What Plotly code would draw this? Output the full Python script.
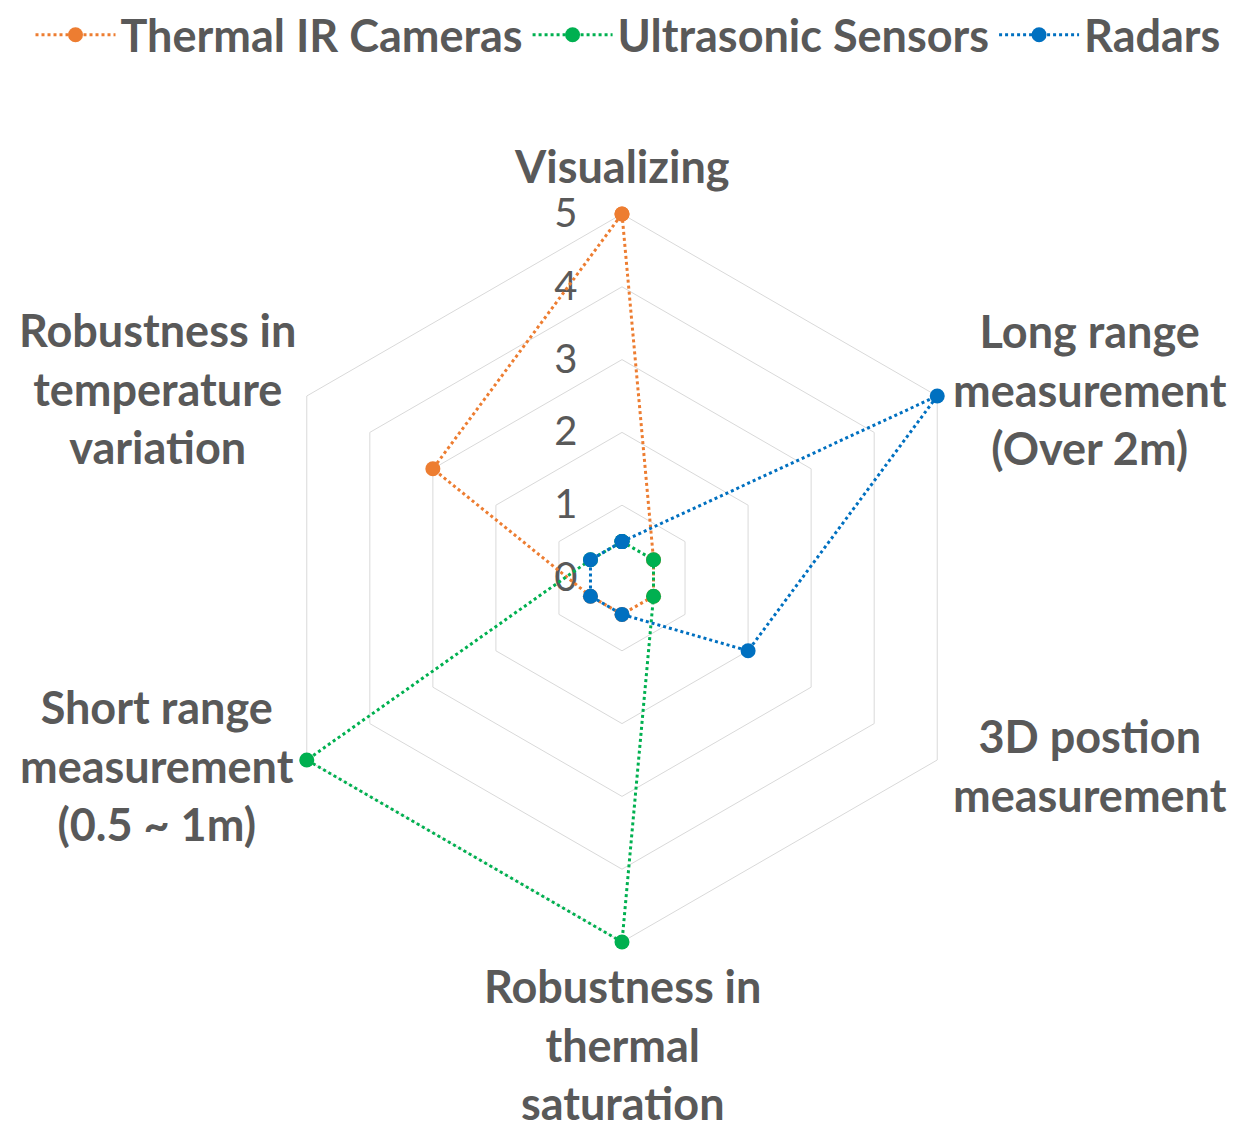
import plotly.graph_objects as go

# data
categories = [
    "Visualizing",
    "Long range measurement (Over 2m)",
    "3D postion measurement",
    "Robustness in thermal saturation",
    "Short range measurement (0.5 ~ 1m)",
    "Robustness in temperature variation",
]
label_lines = [
    ["Visualizing"],
    ["Long range", "measurement", "(Over 2m)"],
    ["3D postion", "measurement"],
    ["Robustness in", "thermal", "saturation"],
    ["Short range", "measurement", "(0.5 ~ 1m)"],
    ["Robustness in", "temperature", "variation"],
]
series_names = ["Thermal IR Cameras", "Ultrasonic Sensors", "Radars"]
thermal_ir = [5, 0.5, 0.5, 0.5, 0.5, 3]
ultrasonic = [0.5, 0.5, 0.5, 5, 5, 0.5]
radars = [0.5, 5, 2, 0.5, 0.5, 0.5]
radial_ticks = [0, 1, 2, 3, 4, 5]

# layout constants (page has an 8px body margin, so figure is 8px smaller)
W, H = 1240, 1130
colors = ["#ED7D31", "#00B050", "#0070C0"]
TEXT = "#595959"
GRID = "#D9D9D9"
FONT = "Lato"
# label block centres in px (figure coords)
label_pos = [(614, 158), (1082, 381), (1082, 757), (614, 1036), (149, 757), (149, 380)]

fig = go.Figure()

for name, vals, col in zip(series_names, [thermal_ir, ultrasonic, radars], colors):
    fig.add_trace(go.Scatterpolar(
        r=vals + vals[:1],
        theta=categories + categories[:1],
        name=name,
        mode="lines+markers",
        line=dict(color=col, width=3, dash="dot"),
        marker=dict(color=col, size=15),
        cliponaxis=False,
    ))

for lines, (px_x, px_y) in zip(label_lines, label_pos):
    fig.add_annotation(
        xref="paper", yref="paper",
        x=px_x / W, y=1 - px_y / H,
        xanchor="center", yanchor="middle",
        text="<br>".join(lines),
        showarrow=False,
        align="center",
        font=dict(size=45, family=FONT, color=TEXT, weight="bold"),
    )

# range a touch past 5 so the outer ring does not clip lines lying on it
R_MAX = 5.04
cx, cy = 614, 570
R = 364 * R_MAX / 5
fig.update_layout(
    width=W,
    height=H,
    paper_bgcolor="white",
    margin=dict(l=0, r=0, t=0, b=0, autoexpand=False),
    font=dict(family=FONT, color=TEXT),
    showlegend=True,
    legend=dict(
        orientation="h",
        x=0.5, xanchor="center",
        y=1.008, yanchor="top",
        font=dict(size=45, family=FONT, color=TEXT, weight="bold"),
        itemwidth=80,
        tracegroupgap=0,
    ),
    polar=dict(
        domain=dict(x=[(cx - R) / W, (cx + R) / W], y=[1 - (cy + R) / H, 1 - (cy - R) / H]),
        bgcolor="white",
        gridshape="linear",
        angularaxis=dict(
            direction="clockwise",
            rotation=90,
            showgrid=False,
            showline=False,
            ticks="",
            showticklabels=False,
            layer="below traces",
        ),
        radialaxis=dict(
            range=[0, R_MAX],
            tickvals=radial_ticks,
            angle=90,
            showline=False,
            gridcolor=GRID,
            gridwidth=1,
            ticks="outside",
            ticklen=30,
            tickcolor="rgba(0,0,0,0)",
            tickfont=dict(size=40, family=FONT, color=TEXT),
            side="counterclockwise",
            tickangle=90,
            layer="below traces",
        ),
    ),
)

fig.write_html("out.html")
